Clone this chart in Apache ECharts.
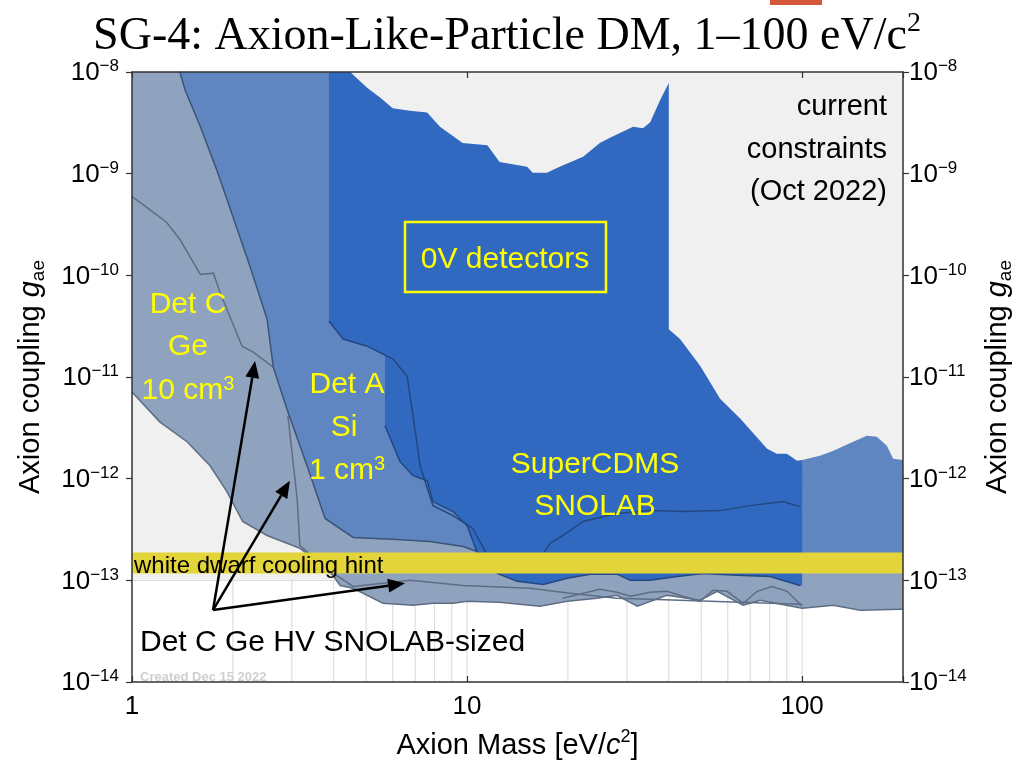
<!DOCTYPE html>
<html><head><meta charset="utf-8">
<script src="https://cdn.jsdelivr.net/npm/echarts@6/dist/echarts.min.js"></script>
<style>html,body{margin:0;padding:0;background:#fff}#c{width:1014px;height:769px}</style>
</head><body><div id="c"></div>
<script>
// ---------------- data (mass in eV/c^2, coupling g_ae) ----------------
const massRange = [1, 200];
const couplingRange = [1e-14, 1e-8];
const xTickLabels = { 0: '1', 1: '10', 2: '100' };
const gridMasses = [2,3,4,5,6,7,8,9,10,20,30,40,50,60,70,80,90,100];
const lowMassLimit = 1e-13;
const whiteDwarfBand = [1.17e-13, 1.88e-13];

// current constraints (Oct 2022), upper excluded region
const constraintCurve = [[4.48,1e-8],[5.03,7.0e-9],[5.5,5.6e-9],[6.0,4.4e-9],[6.76,4.15e-9],[7.6,4.0e-9],[8.3,2.9e-9],[9.7,2.0e-9],[11.5,1.9e-9],[12.5,1.3e-9],[15.1,1.17e-9],[15.7,1.02e-9],[17.3,1.02e-9],[18.9,1.17e-9],[22.2,1.47e-9],[24.9,2.0e-9],[26.7,2.25e-9],[31.3,2.9e-9],[33.5,2.8e-9],[35.2,3.2e-9],[37.7,5.3e-9],[40,7.8e-9],[40,2.95e-11],[43.2,2.36e-11],[49.6,1.29e-11],[56.9,6.1e-12],[65.3,3.9e-12],[78.6,1.97e-12],[84,1.76e-12],[90,1.76e-12],[96.6,1.5e-12],[100,1.53e-12],[113,1.68e-12],[124,1.88e-12],[142,2.31e-12],[156,2.64e-12],[167,2.58e-12],[179,2.11e-12],[187,1.57e-12],[200,1.53e-12],[200,1e-8]];

// Det C Ge HV SNOLAB-sized (lowest envelope)
const detCHV = [[1,1e-8],[1,7.13e-12],[1.21,3.62e-12],[1.46,2.31e-12],[1.71,1.34e-12],[1.92,7.46e-13],[2.14,3.79e-13],[2.53,2.76e-13],[3.02,2.2e-13],[3.17,2.06e-13],[3.64,1.47e-13],[3.98,1.12e-13],[4.18,8.9e-14],[4.57,8.35e-14],[5.61,5.95e-14],[6.9,5.69e-14],[7.91,5.95e-14],[9.08,5.95e-14],[10,6.22e-14],[12.5,6.08e-14],[16.5,5.56e-14],[19.9,6.22e-14],[24.4,6.66e-14],[28,7.13e-14],[32.2,5.56e-14],[39.5,7.13e-14],[49.6,6.37e-14],[55.8,7.8e-14],[66.7,5.69e-14],[74.9,6.37e-14],[100,5.31e-14],[124,5.69e-14],[149,5.08e-14],[196,5.2e-14],[200,5.2e-14],[200,1e-8]];

// Det A Si 1 cm^3
const detASi = [[1.39,1e-8],[1.44,6.66e-9],[1.6,2.89e-9],[1.79,1.09e-9],[2.0,3.79e-10],[2.25,1.22e-10],[2.53,3.71e-11],[2.64,1.25e-11],[2.9,4.85e-12],[3.33,1.34e-12],[3.77,4.06e-13],[4.57,2.64e-13],[6.18,2.52e-13],[7.75,2.41e-13],[9.73,2.15e-13],[10.7,1.92e-13],[14.4,1.64e-13],[200,1.64e-13],[200,1e-8]];

// 0V detectors
const zeroV = [[3.87,1e-8],[3.87,3.54e-11],[4.27,2.36e-11],[5.03,2.01e-11],[5.69,1.64e-11],[5.69,3.31e-12],[6.31,1.47e-12],[6.9,1.07e-12],[7.6,9.55e-13],[7.91,5.95e-13],[9.08,4.75e-13],[10,3.46e-13],[10.7,1.92e-13],[11.5,1.47e-13],[12.3,1.17e-13],[14.1,9.8e-14],[16.9,9.1e-14],[19.9,1.05e-13],[23.3,1.15e-13],[28,1.15e-13],[30.7,1.0e-13],[35.2,1.0e-13],[42.4,1.09e-13],[50.6,1.17e-13],[64,1.12e-13],[80.2,1.09e-13],[98.6,8.9e-14],[100,8.9e-14],[100,1e-8]];

// individual reach curves drawn as lines
const detC10 = [[1,5.96e-10],[1.08,4.97e-10],[1.27,3.31e-10],[1.39,2.25e-10],[1.6,1.02e-10],[1.75,1.05e-10],[1.83,6.8e-11],[2.13,2.01e-11],[2.3,1.76e-11],[2.64,1.25e-11]];
const hvCurve2 = [[2.92,4.15e-12],[3.11,6.37e-13],[3.17,2.2e-13],[3.9,1.23e-13],[4.57,8.7e-14],[6.76,1.0e-13],[9.73,8.9e-14],[15.4,8.35e-14],[20.3,7.46e-14],[28,6.66e-14],[43.2,6.37e-14],[65.3,6.1e-14],[100,5.82e-14]];
const hvCurve3 = [[19.3,6.66e-14],[22.2,7.46e-14],[24.9,8.17e-14],[28,7.62e-14],[30.7,6.97e-14],[35.2,7.62e-14],[39.5,7.8e-14],[44.1,6.97e-14],[49.6,6.22e-14],[54.2,7.98e-14],[59.7,7.8e-14],[66.7,5.95e-14],[73.4,7.8e-14],[81.4,8.7e-14],[90.2,7.8e-14],[100,5.56e-14]];
const zeroVCurveA = [[3.87,3.54e-11],[4.27,2.36e-11],[5.03,2.01e-11],[6.01,1.5e-11],[6.62,1.02e-11],[6.9,4.15e-12],[7.24,1.34e-12],[7.91,5.43e-13],[9.08,4.33e-13],[10.4,3.24e-13],[11.5,1.76e-13]];
const superCDMSCurve = [[16.9,1.84e-13],[17.7,2.31e-13],[19.3,2.76e-13],[22.2,3.79e-13],[28,4.54e-13],[35.2,4.85e-13],[44.1,4.75e-13],[56.9,4.85e-13],[70,5.43e-13],[87.7,5.95e-13],[98.6,5.31e-13]];

const arrowStart = [1.745, 5.1e-14];
const arrowEnds = [[2.33,1.44e-11],[2.96,9.55e-13],[6.53,9.35e-14]];

// ---------------- chart ----------------
const SANS = 'Liberation Sans';
const chart = echarts.init(document.getElementById('c'), null, {renderer:'canvas'});

function polygonSeries(pts, fill, z) {
  return {type:'custom', coordinateSystem:'cartesian2d', silent:true, z:z, data:[[1,1e-10]],
    renderItem:(p, api) => ({type:'polygon', shape:{points: pts.map(q => api.coord(q))}, style:{fill:fill}})};
}
function lineSeries(pts, color, w, z) {
  return {type:'custom', coordinateSystem:'cartesian2d', silent:true, z:z, data:[[1,1e-10]],
    renderItem:(p, api) => ({type:'polyline', shape:{points: pts.map(q => api.coord(q))}, style:{stroke:color, lineWidth:w, fill:null}})};
}

const series = [
  {type:'custom', coordinateSystem:'cartesian2d', silent:true, z:1, data: gridMasses.map(m => [m, 1e-10]),
    renderItem:(p, api) => {
      const m = api.value(0);
      const a = api.coord([m, couplingRange[0]]), b = api.coord([m, couplingRange[1]]);
      return {type:'line', shape:{x1:a[0], y1:a[1], x2:b[0], y2:b[1]}, style:{stroke:'#d9d9d9', lineWidth:1}};
    }},
  lineSeries([[massRange[0], lowMassLimit],[massRange[1], lowMassLimit]], '#d0d0d0', 1, 2),
  polygonSeries([[massRange[0], lowMassLimit],[massRange[1], lowMassLimit],[massRange[1], couplingRange[1]],[massRange[0], couplingRange[1]]], '#f0f0f0', 3),
  polygonSeries(detCHV, '#8fa3bf', 4),
  polygonSeries(detASi, '#5f86c0', 5),
  polygonSeries(zeroV, '#3169c0', 6),
  polygonSeries(constraintCurve, '#f0f0f0', 7),
  lineSeries(detCHV.slice(1, detCHV.length - 1), '#5e6d84', 1.5, 8),
  lineSeries(detC10, '#5e6d84', 1.5, 8),
  lineSeries(hvCurve2, '#5e6d84', 1.5, 8),
  lineSeries(hvCurve3, '#5e6d84', 1.5, 8),
  lineSeries(detASi.slice(0, 16), '#3d5478', 1.5, 8),
  lineSeries(zeroV.slice(5, zeroV.length - 2), '#23487f', 1.5, 9),
  lineSeries(zeroVCurveA, '#23487f', 1.5, 9),
  lineSeries(superCDMSCurve, '#23487f', 1.5, 9),
  polygonSeries([[massRange[0], whiteDwarfBand[0]],[massRange[1], whiteDwarfBand[0]],[massRange[1], whiteDwarfBand[1]],[massRange[0], whiteDwarfBand[1]]], '#e3d43a', 10),
  {type:'custom', coordinateSystem:'cartesian2d', silent:true, z:12, data: arrowEnds,
    renderItem:(p, api) => {
      const s = api.coord(arrowStart), e = api.coord([api.value(0), api.value(1)]);
      const dx = e[0]-s[0], dy = e[1]-s[1], L = Math.sqrt(dx*dx+dy*dy);
      const ux = dx/L, uy = dy/L, hl = 17, hw = 7;
      const bx = e[0]-ux*hl, by = e[1]-uy*hl;
      return {type:'group', children:[
        {type:'line', shape:{x1:s[0], y1:s[1], x2:bx, y2:by}, style:{stroke:'#000', lineWidth:2.5}},
        {type:'polygon', shape:{points:[[e[0],e[1]],[bx-uy*hw, by+ux*hw],[bx+uy*hw, by-ux*hw]]}, style:{fill:'#000'}}
      ]};
    }}
];

function yLabel(v) {
  const e = Math.round(Math.log10(v));
  return '{b|10}{s|\u2212' + (-e) + '}';
}
const yRich = {
  b:{fontFamily:SANS, fontSize:26, color:'#000', lineHeight:28, verticalAlign:'bottom'},
  s:{fontFamily:SANS, fontSize:17, color:'#000', lineHeight:17, verticalAlign:'top'}
};
const yName = '{t|Axion coupling }{g|g}{s|ae}';
const yNameRich = {
  t:{fontFamily:SANS, fontSize:29, color:'#000', lineHeight:34, verticalAlign:'middle'},
  g:{fontFamily:SANS, fontSize:29, fontStyle:'italic', color:'#000', lineHeight:34, verticalAlign:'middle'},
  s:{fontFamily:SANS, fontSize:19, color:'#000', lineHeight:22, verticalAlign:'bottom'}
};
const axisLineStyle = {color:'#333', width:1.5};

const option = {
  animation:false,
  backgroundColor:'#fff',
  title:{
    text:'{t|SG-4: Axion-Like-Particle DM, 1\u2013100 eV/c}{s|2}',
    left:'center', top:5,
    textStyle:{fontWeight:'normal', rich:{
      t:{fontFamily:'Liberation Serif', fontWeight:'normal', fontSize:46, color:'#000', lineHeight:50, verticalAlign:'bottom'},
      s:{fontFamily:'Liberation Serif', fontWeight:'normal', fontSize:28, color:'#000', lineHeight:28, verticalAlign:'top'}
    }}
  },
  grid:{left:132, right:111, top:72, bottom:87, containLabel:false, outerBoundsMode:'none'},
  xAxis:[{
    type:'log', logBase:10, min:massRange[0], max:massRange[1], position:'bottom', z:20,
    axisLine:{show:true, lineStyle:axisLineStyle},
    axisTick:{show:true, inside:true, length:6, lineStyle:{color:'#333', width:1.2}},
    splitLine:{show:false},
    axisLabel:{margin:12, fontFamily:SANS, fontSize:26, color:'#000',
      formatter:v => { const e = Math.log10(v); const r = Math.round(e); return Math.abs(e-r) < 1e-6 && xTickLabels[r] !== undefined ? xTickLabels[r] : ''; }},
    name:'{t|Axion Mass [eV/}{c|c}{s|2}{t|]}', nameLocation:'middle', nameGap:46,
    nameTextStyle:{rich:{
      t:{fontFamily:SANS, fontSize:29, color:'#000', lineHeight:32, verticalAlign:'bottom'},
      c:{fontFamily:SANS, fontSize:29, fontStyle:'italic', color:'#000', lineHeight:32, verticalAlign:'bottom'},
      s:{fontFamily:SANS, fontSize:18, color:'#000', lineHeight:18, verticalAlign:'top'}
    }}
  },{
    type:'log', logBase:10, min:massRange[0], max:massRange[1], position:'top', z:20,
    axisLine:{show:true, lineStyle:axisLineStyle},
    axisTick:{show:true, inside:true, length:6, lineStyle:{color:'#333', width:1.2}},
    axisLabel:{show:false}, splitLine:{show:false}
  }],
  yAxis:[{
    type:'log', logBase:10, min:couplingRange[0], max:couplingRange[1], position:'left', z:20,
    axisLine:{show:true, lineStyle:axisLineStyle},
    axisTick:{show:true, inside:false, length:6, lineStyle:{color:'#333', width:1.2}},
    splitLine:{show:false},
    axisLabel:{margin:13, formatter:yLabel, rich:yRich},
    name:yName, nameLocation:'middle', nameRotate:90, nameGap:84, nameTextStyle:{rich:yNameRich}
  },{
    type:'log', logBase:10, min:couplingRange[0], max:couplingRange[1], position:'right', z:20,
    axisLine:{show:true, lineStyle:axisLineStyle},
    axisTick:{show:true, inside:false, length:6, lineStyle:{color:'#333', width:1.2}},
    splitLine:{show:false},
    axisLabel:{margin:6, formatter:yLabel, rich:yRich},
    name:yName, nameLocation:'middle', nameRotate:90, nameGap:78, nameTextStyle:{rich:yNameRich}
  }],
  series: series,
  graphic:[
    {type:'rect', z:100, shape:{x:770, y:0, width:52, height:5}, style:{fill:'#d4593b'}},
    {type:'rect', z:100, shape:{x:405, y:222, width:201, height:70}, style:{fill:null, stroke:'#ffff00', lineWidth:2.5}},
    {type:'text', z:100, x:505, y:260, style:{text:'0V detectors', font:'30px "Liberation Sans"', fill:'#ffff00', align:'center', verticalAlign:'middle'}},
    {type:'text', z:100, x:188, y:305, style:{text:'Det C', font:'30px "Liberation Sans"', fill:'#ffff00', align:'center', verticalAlign:'middle'}},
    {type:'text', z:100, x:188, y:347, style:{text:'Ge', font:'30px "Liberation Sans"', fill:'#ffff00', align:'center', verticalAlign:'middle'}},
    {type:'text', z:100, x:188, y:390, style:{text:'{a|10 cm}{s|3}', align:'center', verticalAlign:'middle',
      rich:{a:{fontFamily:SANS, fontSize:30, fill:'#ffff00', color:'#ffff00', lineHeight:32, verticalAlign:'bottom'}, s:{fontFamily:SANS, fontSize:20, fill:'#ffff00', color:'#ffff00', lineHeight:20, verticalAlign:'top'}}}},
    {type:'text', z:100, x:347, y:385, style:{text:'Det A', font:'30px "Liberation Sans"', fill:'#ffff00', align:'center', verticalAlign:'middle'}},
    {type:'text', z:100, x:344, y:428, style:{text:'Si', font:'30px "Liberation Sans"', fill:'#ffff00', align:'center', verticalAlign:'middle'}},
    {type:'text', z:100, x:347, y:470, style:{text:'{a|1 cm}{s|3}', align:'center', verticalAlign:'middle',
      rich:{a:{fontFamily:SANS, fontSize:30, fill:'#ffff00', color:'#ffff00', lineHeight:32, verticalAlign:'bottom'}, s:{fontFamily:SANS, fontSize:20, fill:'#ffff00', color:'#ffff00', lineHeight:20, verticalAlign:'top'}}}},
    {type:'text', z:100, x:595, y:465, style:{text:'SuperCDMS', font:'30px "Liberation Sans"', fill:'#ffff00', align:'center', verticalAlign:'middle'}},
    {type:'text', z:100, x:595, y:507, style:{text:'SNOLAB', font:'30px "Liberation Sans"', fill:'#ffff00', align:'center', verticalAlign:'middle'}},
    {type:'text', z:100, x:887, y:107, style:{text:'current', font:'29px "Liberation Sans"', fill:'#000', align:'right', verticalAlign:'middle'}},
    {type:'text', z:100, x:887, y:150, style:{text:'constraints', font:'29px "Liberation Sans"', fill:'#000', align:'right', verticalAlign:'middle'}},
    {type:'text', z:100, x:887, y:192, style:{text:'(Oct 2022)', font:'29px "Liberation Sans"', fill:'#000', align:'right', verticalAlign:'middle'}},
    {type:'text', z:100, x:134, y:566, style:{text:'white dwarf cooling hint', font:'24px "Liberation Sans"', fill:'#000', align:'left', verticalAlign:'middle'}},
    {type:'text', z:100, x:140, y:643, style:{text:'Det C Ge HV SNOLAB-sized', font:'30px "Liberation Sans"', fill:'#000', align:'left', verticalAlign:'middle'}},
    {type:'text', z:100, x:140, y:677, style:{text:'Created Dec 15 2022', font:'bold 13px "Liberation Sans"', fill:'#cfcfcf', align:'left', verticalAlign:'middle'}}
  ]
};
chart.setOption(option);
</script>
</body></html>
